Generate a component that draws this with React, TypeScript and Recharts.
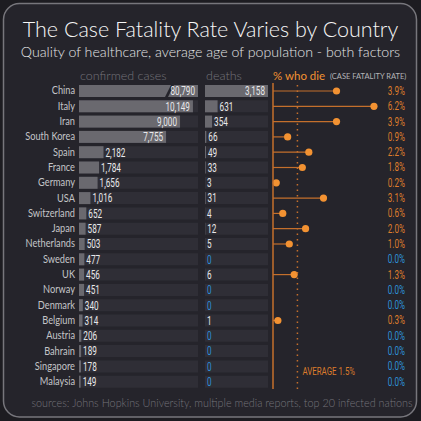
import { BarChart, Bar, XAxis, YAxis, ReferenceLine, LabelList } from "recharts";

// Case fatality rate by country — dark infographic style

const COUNTRIES = [
  "China", "Italy", "Iran", "South Korea", "Spain", "France", "Germany", "USA",
  "Switzerland", "Japan", "Netherlands", "Sweden", "UK", "Norway", "Denmark",
  "Belgium", "Austria", "Bahrain", "Singapore", "Malaysia",
];
const CASES = [
  80790, 10149, 9000, 7755, 2182, 1784, 1656, 1016, 652, 587, 503, 477, 456, 451,
  340, 314, 206, 189, 178, 149,
];
const DEATHS = [3158, 631, 354, 66, 49, 33, 3, 31, 4, 12, 5, 0, 6, 0, 0, 1, 0, 0, 0, 0];
const CFR = [3.9, 6.2, 3.9, 0.9, 2.2, 1.8, 0.2, 3.1, 0.6, 2.0, 1.0, 0.0, 1.3, 0.0, 0.0, 0.3, 0.0, 0.0, 0.0, 0.0];
const AVERAGE_CFR = 1.5;
const CASES_CAP = 10600; // axis is broken above this

const rows = COUNTRIES.map((country, i) => ({
  country,
  cases: CASES[i],
  casesShown: Math.min(CASES[i], CASES_CAP),
  deaths: DEATHS[i],
  cfr: CFR[i],
}));

const cfrByCountry: Record<string, number> = {};
rows.forEach((r) => (cfrByCountry[r.country] = r.cfr));

const OUTER = "#1d1c21";
const BG = "#25242b";
const TRACK = "#2f2e36";
const BAR = "#6a696f";
const ORANGE = "#f39232";
const ORANGE_DIM = "#c46f2c";
const ORANGE_TEXT = "#dc7c2c";
const BLUE = "#2d8fd6";
const LABEL = "#c4c4c8";
const NUM = "#e8e8ea";
const MUTED = "#74737a";

const FONT = "Lato, 'Open Sans', sans-serif";
const NUM_FONT = "Roboto, 'Noto Sans', sans-serif";

const MARGIN_TOP = 83;
const MARGIN_BOTTOM = 32;
const H = 421;

const fmt = (v: number) => v.toLocaleString("en-US");

// narrow numerals, squeezed horizontally like the original's condensed face
function NarrowText({ x, y, anchor, fill, size = 12, sx = 0.68, children }: any) {
  return (
    <text
      transform={`translate(${x},${y}) scale(${sx},1)`}
      dy="0.36em"
      textAnchor={anchor}
      fill={fill}
      fontSize={size}
      fontFamily={NUM_FONT}
    >
      {children}
    </text>
  );
}

function valueText(x: number, y: number, width: number, height: number, value: number) {
  const inside = width > 40;
  return (
    <NarrowText
      x={inside ? x + width - 3 : x + width + 2}
      y={y + height / 2}
      anchor={inside ? "end" : "start"}
      fill={value === 0 ? BLUE : NUM}
    >
      {fmt(value)}
    </NarrowText>
  );
}

function valueLabel(props: any) {
  const { x, y, width, height, value } = props;
  return valueText(x, y, width, height, value);
}

function CasesBar(props: any) {
  const { x, y, width, height, payload } = props;
  if (!payload || payload.cases <= CASES_CAP) {
    return <rect x={x} y={y} width={width} height={height} fill={BAR} />;
  }
  // broken bar for the off-scale value
  const bx = x + width - 33;
  return (
    <g>
      <rect x={x} y={y} width={width} height={height} fill={BAR} />
      <polygon
        points={`${bx},${y + height} ${bx + 3},${y + height} ${bx + 9},${y} ${bx + 6},${y}`}
        fill={BG}
      />
    </g>
  );
}

function DeathsBar(props: any) {
  const { x, y, width, height, payload } = props;
  const w = Math.max(0, width || 0);
  return (
    <g>
      {w > 0 && <rect x={x} y={y} width={w} height={height} fill={BAR} />}
      {payload && valueText(x, y, w, height, payload.deaths)}
    </g>
  );
}

function Lollipop(props: any) {
  const { x, y, width, height, payload } = props;
  if (!payload || payload.cfr <= 0) return null;
  const cy = y + height / 2;
  return (
    <g>
      <line x1={x} y1={cy} x2={x + width} y2={cy} stroke={ORANGE_DIM} strokeWidth={1.2} />
      <circle cx={x + width} cy={cy} r={3.6} fill={ORANGE} />
    </g>
  );
}

function CountryTick(props: any) {
  const { x, y, payload } = props;
  return (
    <text
      transform={`translate(${x},${y}) scale(0.88,1)`}
      dy="0.36em"
      textAnchor="end"
      fill={LABEL}
      fontSize={10.5}
      fontFamily={FONT}
    >
      {payload.value}
    </text>
  );
}

function PercentTick(props: any) {
  const { x, y, payload } = props;
  const v = cfrByCountry[payload.value] ?? 0;
  return (
    <NarrowText x={x + 16} y={y} anchor="end" fill={v === 0 ? BLUE : ORANGE_TEXT}>
      {v.toFixed(1)}%
    </NarrowText>
  );
}

function AverageLabel(props: any) {
  const { viewBox } = props;
  if (!viewBox) return null;
  return (
    <NarrowText x={viewBox.x + 5} y={viewBox.y + viewBox.height - 18} anchor="start" fill={ORANGE_TEXT} size={10.5} sx={0.75}>
      AVERAGE {AVERAGE_CFR}%
    </NarrowText>
  );
}

export default function App() {
  return (
    <div style={{ position: "fixed", left: 0, top: 0, width: 421, height: 421, background: OUTER }}>
      <svg width={421} height={421} style={{ position: "absolute", left: 0, top: 0 }}>
        <rect x={3.5} y={3.5} width={413} height={413.5} rx={16} fill={BG} stroke="#77767c" strokeWidth={1.5} />
        <text x={210.5} y={36.5} textAnchor="middle" fill="#f6f6f6" fontSize={21.5} fontWeight={300} fontFamily={FONT}>
          The Case Fatality Rate Varies by Country
        </text>
        <text x={210.5} y={57} textAnchor="middle" fill="#e4e4e6" fontSize={14.2} fontWeight={300} fontFamily={FONT}>
          Quality of healthcare, average age of population - both factors
        </text>
        <text x={80} y={80} fill={MUTED} fontSize={12.5} fontWeight={300} fontFamily={FONT}>confirmed cases</text>
        <text x={206} y={80} fill={MUTED} fontSize={12.5} fontWeight={300} fontFamily={FONT}>deaths</text>
        <text x={273} y={80} fill={ORANGE} fontSize={11.5} fontFamily={FONT}>% who die</text>
        <text x={330} y={79} fill="#b4b4b8" fontSize={7.5} fontFamily={FONT}>(CASE FATALITY RATE)</text>
        <text x={222} y={407} textAnchor="middle" fill={MUTED} fontSize={10.8} fontWeight={300} fontFamily={FONT}>
          sources: Johns Hopkins University, multiple media reports, top 20 infected nations
        </text>
      </svg>

      {/* confirmed cases */}
      <div style={{ position: "absolute", left: 0, top: 0 }}>
        <BarChart
          layout="vertical"
          width={200}
          height={H}
          data={rows}
          margin={{ top: MARGIN_TOP, right: 2, bottom: MARGIN_BOTTOM, left: 0 }}
          barSize={12}
        >
          <XAxis type="number" domain={[0, CASES_CAP]} hide />
          <YAxis
            type="category"
            dataKey="country"
            width={79}
            interval={0}
            tickLine={false}
            axisLine={false}
            tickSize={0}
            tickMargin={4}
            tick={CountryTick}
          />
          <Bar dataKey="casesShown" background={{ fill: TRACK }} shape={CasesBar} isAnimationActive={false}>
            <LabelList dataKey="cases" content={valueLabel} />
          </Bar>
        </BarChart>
      </div>

      {/* deaths */}
      <div style={{ position: "absolute", left: 205, top: 0 }}>
        <BarChart
          layout="vertical"
          width={63}
          height={H}
          data={rows}
          margin={{ top: MARGIN_TOP, right: 0, bottom: MARGIN_BOTTOM, left: 0 }}
          barSize={12}
        >
          <XAxis type="number" domain={[0, 3158]} hide />
          <YAxis type="category" dataKey="country" hide />
          <Bar dataKey="deaths" background={{ fill: TRACK }} shape={DeathsBar} isAnimationActive={false} />
        </BarChart>
      </div>

      {/* case fatality rate */}
      <div style={{ position: "absolute", left: 263, top: 0 }}>
        <BarChart
          layout="vertical"
          width={158}
          height={H}
          data={rows}
          margin={{ top: MARGIN_TOP, right: 0, bottom: MARGIN_BOTTOM, left: 10 }}
          barSize={12}
        >
          <XAxis type="number" domain={[0, 7]} hide />
          <YAxis
            type="category"
            dataKey="country"
            orientation="right"
            width={34}
            interval={0}
            tickLine={false}
            axisLine={false}
            tickSize={0}
            tick={PercentTick}
          />
          <ReferenceLine x={AVERAGE_CFR} stroke={ORANGE_DIM} strokeWidth={1.5} strokeDasharray="1.5 4" label={AverageLabel} />
          <ReferenceLine x={0} stroke={ORANGE_DIM} strokeWidth={1.5} />
          <Bar dataKey="cfr" shape={Lollipop} isAnimationActive={false} />
        </BarChart>
      </div>
    </div>
  );
}
